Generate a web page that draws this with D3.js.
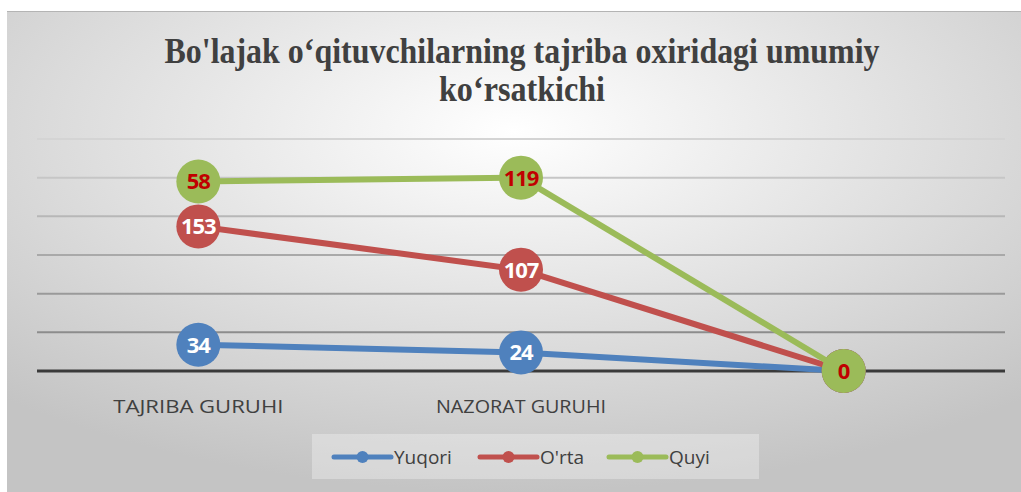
<!DOCTYPE html>
<html lang="uz">
<head>
<meta charset="UTF-8">
<title>Bo'lajak o‘qituvchilarning tajriba oxiridagi umumiy ko‘rsatkichi</title>
<script src="https://d3js.org/d3.v7.min.js"></script>
<style>
  body { margin: 0; background: #fff; }
  svg { display: block; }
</style>
</head>
<body>
<div id="chart"></div>
<script>
// data (stacked line chart)
const categories = ["TAJRIBA GURUHI", "NAZORAT GURUHI", ""];
const yuqori = [34, 24, 0];
const orta = [153, 107, 0];
const quyi = [58, 119, 0];
const seriesNames = ["Yuqori", "O'rta", "Quyi"];
const yTicks = [0, 50, 100, 150, 200, 250, 300];

const W = 1021, H = 492;
const colors = ["#4f81bd", "#c0504d", "#9bbb59"];
const labelColors = ["#ffffff", "#ffffff", "#c00000"];

const svg = d3.select("#chart").append("svg")
  .attr("width", W).attr("height", H);

// background gradient
const defs = svg.append("defs");
const grad = defs.append("radialGradient")
  .attr("id", "bg").attr("cx", "50%").attr("cy", "25%").attr("r", "75%");
grad.append("stop").attr("offset", "0%").attr("stop-color", "#ffffff");
grad.append("stop").attr("offset", "100%").attr("stop-color", "#c4c4c4");

svg.append("rect").attr("x", 7).attr("y", 11).attr("width", W - 7).attr("height", H - 11)
  .attr("fill", "url(#bg)");
svg.append("line").attr("x1", 7).attr("x2", W).attr("y1", 11.5).attr("y2", 11.5)
  .attr("stroke", "#b4b4b4").attr("stroke-width", 1);

// title
const title = svg.append("g")
  .attr("font-family", "'Liberation Serif', 'Times New Roman', serif")
  .attr("font-weight", "bold").attr("font-size", 36).attr("fill", "#404040")
  .attr("text-anchor", "middle");
title.append("text").attr("x", 522).attr("y", 63)
  .attr("textLength", 715).attr("lengthAdjust", "spacingAndGlyphs")
  .text("Bo'lajak o‘qituvchilarning tajriba oxiridagi umumiy");
title.append("text").attr("x", 522).attr("y", 101)
  .attr("textLength", 166).attr("lengthAdjust", "spacingAndGlyphs")
  .text("ko‘rsatkichi");

// scales
const x = d3.scaleBand().domain(d3.range(categories.length)).range([37, 1005]).padding(0);
const cx = i => x(i) + x.bandwidth() / 2;
const y = d3.scaleLinear().domain([0, 300]).range([371, 139]);

// gridlines, darker toward the bottom
const gridColor = d3.scaleLinear().domain([300, 50]).range(["#d4d4d4", "#8c8c8c"]);
svg.append("g").selectAll("line")
  .data(yTicks.filter(t => t > 0))
  .join("line")
  .attr("x1", 37).attr("x2", 1005)
  .attr("y1", d => y(d)).attr("y2", d => y(d))
  .attr("stroke", d => gridColor(d)).attr("stroke-width", 2);

// x axis
svg.append("line").attr("x1", 37).attr("x2", 1005)
  .attr("y1", y(0)).attr("y2", y(0))
  .attr("stroke", "#3a3a3a").attr("stroke-width", 3);

svg.append("g").selectAll("text")
  .data(categories)
  .join("text")
  .attr("x", (d, i) => cx(i)).attr("y", 413)
  .attr("text-anchor", "middle")
  .attr("font-family", "'Open Sans', sans-serif")
  .attr("font-size", 19).attr("fill", "#404040")
  .attr("textLength", d => d ? 170 : null).attr("lengthAdjust", "spacingAndGlyphs")
  .text(d => d);

// stacked series
const rows = categories.map((c, i) => ({ i, Yuqori: yuqori[i], "O'rta": orta[i], Quyi: quyi[i] }));
const stacked = d3.stack().keys(seriesNames)(rows);

const line = d3.line().x(d => cx(d.data.i)).y(d => y(d[1]));

stacked.forEach((s, k) => {
  const g = svg.append("g");
  g.append("path").datum(s)
    .attr("d", line)
    .attr("fill", "none").attr("stroke", colors[k]).attr("stroke-width", 6)
    .attr("stroke-linejoin", "round");
  g.selectAll("circle").data(s).join("circle")
    .attr("cx", d => cx(d.data.i)).attr("cy", d => y(d[1]))
    .attr("r", 22).attr("fill", colors[k]);
  g.selectAll("text").data(s).join("text")
    .attr("x", d => cx(d.data.i)).attr("y", d => y(d[1]))
    .attr("dy", "0.36em").attr("text-anchor", "middle")
    .attr("font-family", "'Open Sans', 'Liberation Sans', sans-serif")
    .attr("font-weight", "bold").attr("font-size", 22)
    .attr("letter-spacing", -1)
    .attr("fill", labelColors[k])
    .text(d => d[1] - d[0]);
});

// legend
const legend = svg.append("g");
legend.append("rect").attr("x", 312).attr("y", 434).attr("width", 447).attr("height", 45)
  .attr("fill", "#ffffff").attr("fill-opacity", 0.3);
const legendX = [334, 480, 609];
seriesNames.forEach((name, k) => {
  const lg = legend.append("g").attr("transform", `translate(${legendX[k]},457)`);
  lg.append("line").attr("x1", 0).attr("x2", 57).attr("stroke", colors[k])
    .attr("stroke-width", 5).attr("stroke-linecap", "round");
  lg.append("circle").attr("cx", 28.5).attr("r", 6).attr("fill", colors[k]);
  lg.append("text").attr("x", 60).attr("dy", "0.36em")
    .attr("font-family", "'Open Sans', sans-serif")
    .attr("font-size", 19).attr("fill", "#404040")
    .text(name);
});
</script>
</body>
</html>
